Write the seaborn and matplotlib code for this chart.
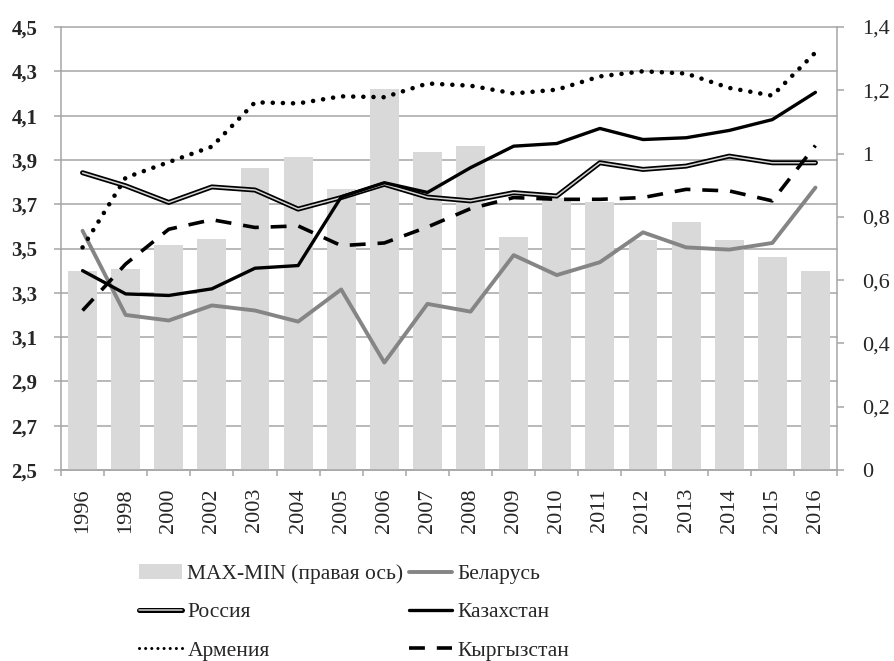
import numpy as np
import pandas as pd
import matplotlib
matplotlib.use("Agg")
import matplotlib.pyplot as plt
import matplotlib.transforms as mtransforms
import matplotlib.patheffects as pe
from matplotlib.lines import Line2D
from matplotlib.patches import Patch
import seaborn as sns

# ---------------- data ----------------
years = ['1996', '1998', '2000', '2002', '2003', '2004', '2005', '2006', '2007',
         '2008', '2009', '2010', '2011', '2012', '2013', '2014', '2015', '2016']
maxmin = [0.63, 0.635, 0.71, 0.73, 0.955, 0.99, 0.888, 1.203, 1.004,
          1.024, 0.735, 0.86, 0.847, 0.727, 0.785, 0.727, 0.674, 0.63]
belarus = [3.58, 3.20, 3.175, 3.243, 3.22, 3.17, 3.315, 2.985, 3.25,
           3.215, 3.47, 3.38, 3.438, 3.573, 3.505, 3.495, 3.525, 3.775]
russia = [3.842, 3.783, 3.708, 3.778, 3.764, 3.678, 3.73, 3.79, 3.732,
          3.715, 3.752, 3.737, 3.887, 3.857, 3.872, 3.917, 3.887, 3.887]
kazakhstan = [3.40, 3.295, 3.288, 3.318, 3.411, 3.423, 3.733, 3.797, 3.753,
              3.865, 3.962, 3.974, 4.042, 3.992, 4.0, 4.033, 4.082, 4.205]
armenia = [3.505, 3.82, 3.89, 3.96, 4.16, 4.155, 4.187, 4.183, 4.245,
           4.235, 4.20, 4.217, 4.277, 4.30, 4.29, 4.225, 4.19, 4.385]
kyrgyzstan = [3.22, 3.43, 3.587, 3.63, 3.595, 3.602, 3.513, 3.525, 3.597,
              3.68, 3.73, 3.722, 3.722, 3.73, 3.767, 3.76, 3.715, 3.965]

left_ticks = [2.5, 2.7, 2.9, 3.1, 3.3, 3.5, 3.7, 3.9, 4.1, 4.3, 4.5]
left_labels = ['2,5', '2,7', '2,9', '3,1', '3,3', '3,5', '3,7', '3,9', '4,1', '4,3', '4,5']
right_ticks = [0, 0.2, 0.4, 0.6, 0.8, 1.0, 1.2, 1.4]
right_labels = ['0', '0,2', '0,4', '0,6', '0,8', '1', '1,2', '1,4']

bar_label = 'MAX-MIN (правая ось)'

# ---------------- style ----------------
sns.set_style('white')
plt.rcParams['font.family'] = ['Liberation Serif', 'DejaVu Serif']

GRID = '#a6a6a6'
BAR = '#d9d9d9'
RUS_FX = [pe.Stroke(linewidth=3.6, foreground='black'), pe.Normal()]

fig = plt.figure(figsize=(8.95, 6.61), dpi=100)
ax = fig.add_axes([61 / 895, 1 - 470 / 661, (837 - 61) / 895, (470 - 27) / 661])
ax2 = ax.twinx()

# bars (right axis)
df_bar = pd.DataFrame({'year': years, 'value': maxmin})
sns.barplot(data=df_bar, x='year', y='value', ax=ax, color=BAR, saturation=1,
            width=0.67, errorbar=None, zorder=2, linewidth=0)
ax.set_ylim(0, 1.4)
ax.set_xlim(-0.5, len(years) - 0.5)

# grid lines at left-axis values, behind the bars
ax2.set_ylim(2.5, 4.5)
trans = mtransforms.blended_transform_factory(ax.transAxes, ax2.transData)
for v in left_ticks:
    ax.plot([0, 1], [v, v], transform=trans, color=GRID, lw=1.1, zorder=1,
            clip_on=False)

# lines (left axis)
series = [
    ('Беларусь', belarus, dict(color='#858585', linewidth=2.8, linestyle='-')),
    ('Россия', russia, dict(color='#d4d4d4', linewidth=1.1, linestyle='-')),
    ('Казахстан', kazakhstan, dict(color='black', linewidth=2.4, linestyle='-')),
    ('Армения', armenia, dict(color='black', linewidth=3.3, linestyle=(0, (0.01, 2.2)),
                             dash_capstyle='round')),
    ('Кыргызстан', kyrgyzstan, dict(color='black', linewidth=2.6, linestyle=(0, (4.4, 3.3)))),
]
for name, vals, kw in series:
    d = pd.DataFrame({'year': years, 'value': vals})
    n_before = len(ax2.lines)
    sns.pointplot(data=d, x='year', y='value', ax=ax2, errorbar=None,
                  marker='', **kw)
    if name == 'Россия':
        for ln in ax2.lines[n_before:]:
            ln.set_path_effects(RUS_FX)

ax2.set_ylim(2.5, 4.5)
ax2.set_xlim(-0.5, len(years) - 0.5)

# axes cosmetics
ax.spines['top'].set_visible(False)
for s in ['left', 'right', 'bottom']:
    ax.spines[s].set_color(GRID)
    ax.spines[s].set_linewidth(1.1)
for s in ax2.spines.values():
    s.set_visible(False)

ax.yaxis.tick_right()
ax.set_yticks(right_ticks)
ax.set_yticklabels(right_labels, fontsize=16)
ax.tick_params(axis='y', which='major', direction='out', length=5, width=1.1,
               color=GRID, pad=13, right=True, left=False)

ax2.yaxis.tick_left()
ax2.set_yticks(left_ticks)
ax2.set_yticklabels(left_labels, fontsize=15, fontweight='bold')
ax2.tick_params(axis='y', which='major', direction='out', length=5, width=1.1,
                color=GRID, pad=12, left=True, right=False)

ax.set_xticks(range(len(years)))
ax.set_xticklabels(years, rotation=90, fontsize=16)
ax.set_xticks(np.arange(-0.5, len(years), 1), minor=True)
ax.tick_params(axis='x', which='major', length=0, pad=13)
ax.tick_params(axis='x', which='minor', direction='out', length=4, width=1.1,
               color=GRID, bottom=True)
ax.set_xlabel('')
ax.set_ylabel('')
ax2.set_xlabel('')
ax2.set_ylabel('')

# legend
h_bar = Patch(facecolor=BAR, edgecolor='none')
h_bel = Line2D([], [], color='#858585', lw=2.8)
h_rus = Line2D([], [], color='#d4d4d4', lw=1.1, path_effects=RUS_FX)
h_kaz = Line2D([], [], color='black', lw=2.4)
h_arm = Line2D([], [], color='black', lw=2.2, linestyle=(0, (0.01, 2.0)), dash_capstyle='round')
h_kyr = Line2D([], [], color='black', lw=2.6, linestyle=(0, (4.4, 3.3)))
handles = [h_bar, h_rus, h_arm, h_bel, h_kaz, h_kyr]
labels = [bar_label, 'Россия', 'Армения', 'Беларусь', 'Казахстан', 'Кыргызстан']
fig.legend(handles, labels, loc='upper left', bbox_to_anchor=(139 / 895, 1 - 564 / 661),
           ncol=2, frameon=False, fontsize=15.5, handlelength=2.0, handletextpad=0.25,
           columnspacing=0.25, labelspacing=0.85, borderpad=0, borderaxespad=0)

fig.savefig('out.png', dpi=100)
